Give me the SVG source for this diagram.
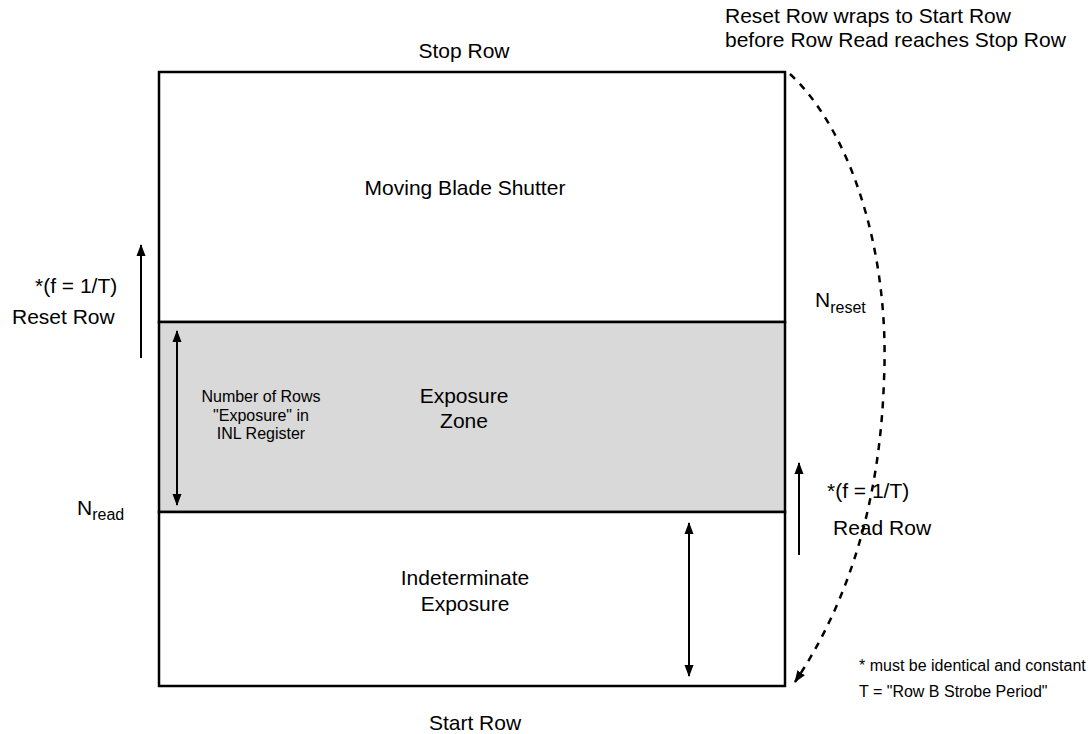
<svg xmlns="http://www.w3.org/2000/svg" width="1089" height="734" viewBox="0 0 1089 734">
<style>
text{font-family:"Liberation Sans",Arial,sans-serif;fill:#000}
.t{font-size:21px}
.s{font-size:16px}
.m{text-anchor:middle}
.ln{stroke:#000;stroke-width:2;fill:none}
.box{stroke:#000;stroke-width:2.5}
</style>
<defs>
<marker id="ah" markerWidth="12" markerHeight="10" refX="11" refY="5" orient="auto" markerUnits="userSpaceOnUse">
<path d="M0,0.5 L12,5 L0,9.5 Z" fill="#000"/>
</marker>
<marker id="ahs" markerWidth="12" markerHeight="10" refX="11" refY="5" orient="auto-start-reverse" markerUnits="userSpaceOnUse">
<path d="M0,0.5 L12,5 L0,9.5 Z" fill="#000"/>
</marker>
</defs>
<rect width="1089" height="734" fill="#fff"/>
<g id="shutter">
<rect class="box" x="159" y="72" width="626" height="250" fill="#fff"/>
<text class="t m" x="465" y="195">Moving Blade Shutter</text>
</g>
<g id="exposure-zone">
<rect class="box" x="159" y="322" width="626" height="190" fill="#d9d9d9"/>
<text class="t m" x="464" y="403">Exposure</text>
<text class="t m" x="464" y="428">Zone</text>
<text class="s m" x="261" y="402">Number of Rows</text>
<text class="s m" x="261" y="421">"Exposure" in</text>
<text class="s m" x="261" y="439">INL Register</text>
</g>
<g id="indeterminate">
<rect class="box" x="159" y="512" width="626" height="174" fill="#fff"/>
<text class="t m" x="465" y="585">Indeterminate</text>
<text class="t m" x="465" y="611">Exposure</text>
</g>
<g id="labels">
<text class="t m" x="464" y="58">Stop Row</text>
<text class="t m" x="475" y="730">Start Row</text>
<text class="t" x="725" y="23">Reset Row wraps to Start Row</text>
<text class="t" x="725" y="47">before Row Read reaches Stop Row</text>
<text class="t" x="35" y="293">*(f = 1/T)</text>
<text class="t" x="12" y="324">Reset Row</text>
<text class="t" x="77" y="515">N<tspan font-size="16" dy="5">read</tspan></text>
<text class="t" x="815" y="307">N<tspan font-size="16" dy="6">reset</tspan></text>
<text class="t" x="827" y="498">*(f = 1/T)</text>
<text class="t" x="833" y="535">Read Row</text>
<text class="s" x="859" y="671">* must be identical and constant</text>
<text class="s" x="859" y="697">T = "Row B Strobe Period"</text>
</g>
<g id="connectors">
<line class="ln" x1="141" y1="358" x2="141" y2="245" marker-end="url(#ah)"/>
<line class="ln" x1="177" y1="331" x2="177" y2="505" marker-start="url(#ahs)" marker-end="url(#ah)"/>
<line class="ln" x1="689" y1="523" x2="689" y2="676" marker-start="url(#ahs)" marker-end="url(#ah)"/>
<line class="ln" x1="799" y1="555" x2="799" y2="463" marker-end="url(#ah)"/>
<path d="M790,74 C850,130 890,250 884,380 C880,500 850,600 795,682" fill="none" stroke="#000" stroke-width="2.5" stroke-dasharray="7,7" marker-end="url(#ah)"/>
</g>
</svg>
